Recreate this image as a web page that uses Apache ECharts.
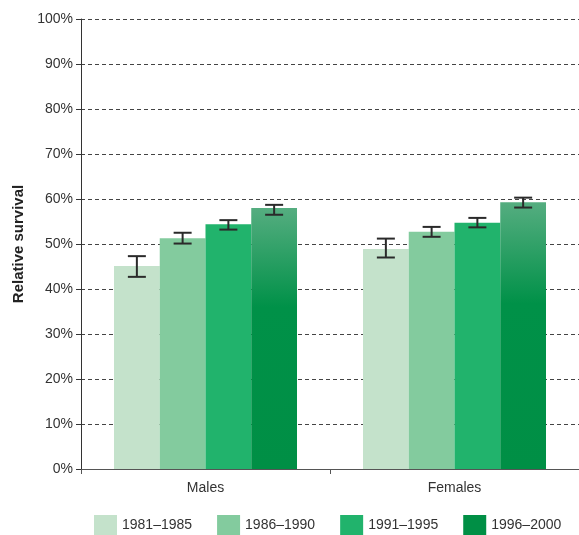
<!DOCTYPE html>
<html><head><meta charset="utf-8">
<script src="https://cdn.jsdelivr.net/npm/echarts@6/dist/echarts.min.js"></script>
<style>html,body{margin:0;padding:0;background:#fff}#c{width:579px;height:535px}</style>
</head><body><div id="c"></div>
<script>
const categories = ['Males', 'Females'];
const periods = ['1981–1985', '1986–1990', '1991–1995', '1996–2000'];
const v1981 = [45.1, 48.9];
const v1986 = [51.3, 52.7];
const v1991 = [54.4, 54.7];
const v1996 = [58.0, 59.3];
const lo1981 = [42.7, 47.0], hi1981 = [47.3, 51.2];
const lo1986 = [50.1, 51.6], hi1986 = [52.5, 53.8];
const lo1991 = [53.2, 53.7], hi1991 = [55.3, 55.8];
const lo1996 = [56.5, 58.1], hi1996 = [58.7, 60.3];
const yTicks = [0, 10, 20, 30, 40, 50, 60, 70, 80, 90, 100];

const values = [v1981, v1986, v1991, v1996];
const lows = [lo1981, lo1986, lo1991, lo1996];
const highs = [hi1981, hi1986, hi1991, hi1996];
const colors = ['#c4e2cb', '#83cb9e', '#21b36c', '#008f45'];
const FONT = '"Liberation Sans Narrow", "Liberation Sans", Arial, sans-serif';
const CAT_GAP = 0.265;

const chart = echarts.init(document.getElementById('c'), null, {renderer: 'canvas'});

const series = [];
periods.forEach((p, i) => {
  const color = i === 3 ? {
    type: 'linear', x: 0, y: 0, x2: 0, y2: 1,
    colorStops: [{offset: 0, color: '#55ad80'}, {offset: 0.38, color: '#009148'}, {offset: 1, color: '#008f45'}]
  } : colors[i];
  series.push({
    name: p, type: 'bar', data: values[i],
    barGap: '0%', barCategoryGap: (CAT_GAP * 100) + '%',
    itemStyle: {color: color}, emphasis: {disabled: true}
  });
});
periods.forEach((p, i) => {
  series.push({
    type: 'custom', silent: true, z: 10,
    data: categories.map((c, k) => [k, lows[i][k], highs[i][k]]),
    renderItem: function (params, api) {
      const k = api.value(0);
      const lowP = api.coord([k, api.value(1)]);
      const highP = api.coord([k, api.value(2)]);
      const catW = api.size([1, 0])[0];
      const barW = catW * (1 - CAT_GAP) / 4;
      const x = lowP[0] + (i - 1.5) * barW;
      const cap = 9;
      const st = {stroke: '#2a2a2a', lineWidth: 2};
      return {type: 'group', children: [
        {type: 'line', shape: {x1: x, y1: highP[1], x2: x, y2: lowP[1]}, style: st},
        {type: 'line', shape: {x1: x - cap, y1: highP[1], x2: x + cap, y2: highP[1]}, style: st},
        {type: 'line', shape: {x1: x - cap, y1: lowP[1], x2: x + cap, y2: lowP[1]}, style: st}
      ]};
    }
  });
});

chart.setOption({
  animation: false,
  grid: {left: 81, right: 0, top: 19, bottom: 66, containLabel: false},
  legend: {
    data: periods.map((p, i) => ({name: p, itemStyle: {color: colors[i]}})),
    left: 94, top: 515, itemWidth: 23, itemHeight: 20, itemGap: 25, padding: 0,
    icon: 'rect',
    textStyle: {fontFamily: FONT, fontSize: 14, color: '#333'},
    selectedMode: false
  },
  xAxis: {
    type: 'category', data: categories,
    axisLine: {lineStyle: {color: '#555', width: 1}},
    axisTick: {show: true, length: 5, lineStyle: {color: '#555'}},
    axisLabel: {fontFamily: FONT, fontSize: 14, color: '#333', margin: 12}
  },
  yAxis: {
    type: 'value', min: 0, max: 100, interval: 10,
    name: 'Relative survival', nameLocation: 'middle', nameGap: 55, nameRotate: 90,
    nameTextStyle: {fontFamily: FONT, fontSize: 15, fontWeight: 'bold', color: '#222'},
    axisLine: {show: true, lineStyle: {color: '#333', width: 1}},
    axisTick: {show: true, length: 5, lineStyle: {color: '#333'}},
    axisLabel: {fontFamily: FONT, fontSize: 14, color: '#333', margin: 8,
      formatter: v => yTicks.indexOf(v) >= 0 ? v + '%' : ''},
    splitLine: {show: true, lineStyle: {color: '#444', type: [4, 3], width: 1}}
  },
  series: series
});
</script></body></html>
